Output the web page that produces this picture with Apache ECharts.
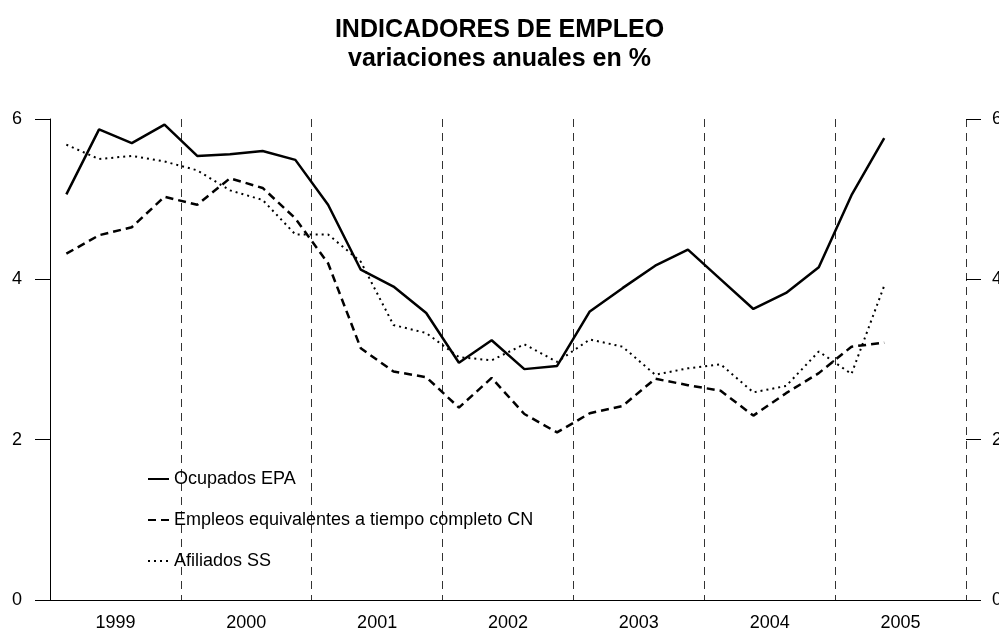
<!DOCTYPE html>
<html>
<head>
<meta charset="utf-8">
<title>Indicadores de empleo</title>
<script src="https://cdn.jsdelivr.net/npm/echarts@6/dist/echarts.min.js"></script>
<style>
  html, body { margin: 0; padding: 0; background: #fff; }
  #chart { width: 999px; height: 632px; }
</style>
</head>
<body>
<div id="chart"></div>
<script>
// datos trimestrales, variaciones anuales en %
var years = ["1999", "2000", "2001", "2002", "2003", "2004", "2005"];
var quarters = [];
years.forEach(function (y) {
  for (var q = 1; q <= 4; q++) quarters.push(y + "T" + q);
});
var ocupadosEPA = [5.06, 5.87, 5.70, 5.93, 5.54, 5.56, 5.60, 5.49, 4.93, 4.12, 3.91, 3.58, 2.96,
  3.24, 2.88, 2.92, 3.60, 3.89, 4.17, 4.37, 4.00, 3.63, 3.83, 4.15, 5.05, 5.76];
var empleosCN = [4.32, 4.55, 4.65, 5.03, 4.93, 5.26, 5.14, 4.76, 4.20, 3.14, 2.85, 2.78, 2.40,
  2.77, 2.32, 2.09, 2.33, 2.42, 2.76, 2.68, 2.61, 2.30, 2.58, 2.83, 3.16, 3.21];
var afiliadosSS = [5.68, 5.50, 5.54, 5.47, 5.36, 5.11, 4.99, 4.56, 4.56, 4.22, 3.43, 3.33, 3.03,
  2.99, 3.19, 2.97, 3.25, 3.16, 2.81, 2.89, 2.94, 2.59, 2.67, 3.10, 2.82, 3.92];
var yTicks = [0, 2, 4, 6];

(function () {
  var myChart = echarts.init(document.getElementById("chart"));
  var font = "Liberation Sans, Arial, sans-serif";
  var yAxisBase = {
    type: "value",
    min: yTicks[0],
    max: yTicks[yTicks.length - 1],
    interval: yTicks[1] - yTicks[0],
    splitLine: { show: false },
    axisTick: { show: true, length: 15, lineStyle: { color: "#000", width: 1 } },
    axisLabel: { color: "#000", fontSize: 18, fontFamily: font }
  };
  var option = {
    backgroundColor: "#fff",
    animation: false,
    title: {
      text: "INDICADORES DE EMPLEO\nvariaciones anuales en %",
      left: "center",
      top: 11,
      textStyle: { fontSize: 25, fontWeight: "bold", color: "#000", fontFamily: font, lineHeight: 29 }
    },
    legend: {
      orient: "vertical",
      left: 142,
      top: 465,
      itemWidth: 21,
      itemHeight: 20,
      itemGap: 23,
      itemStyle: { opacity: 0 },
      textStyle: { fontSize: 18, color: "#000", fontFamily: font },
      data: ["Ocupados EPA", "Empleos equivalentes a tiempo completo CN", "Afiliados SS"]
    },
    grid: { left: 50, right: 33, top: 119, bottom: 32, outerBoundsMode: "none", containLabel: false },
    xAxis: [
      {
        type: "category",
        data: quarters,
        boundaryGap: true,
        show: false
      },
      {
        type: "category",
        data: years,
        position: "bottom",
        offset: 0,
        boundaryGap: true,
        axisLine: { onZero: false, lineStyle: { color: "#000", width: 1 } },
        axisTick: { show: false },
        axisLabel: { color: "#000", fontSize: 18, fontFamily: font, margin: 14 },
        splitLine: {
          show: true,
          lineStyle: { color: "#333", width: 1, type: [8, 6] }
        }
      }
    ],
    yAxis: [
      Object.assign({}, yAxisBase, {
        position: "left",
        axisLine: { show: true, lineStyle: { color: "#000", width: 1 } },
        axisLabel: Object.assign({}, yAxisBase.axisLabel, { margin: 28 })
      }),
      Object.assign({}, yAxisBase, {
        position: "right",
        axisLine: { show: false },
        axisLabel: Object.assign({}, yAxisBase.axisLabel, { margin: 26 })
      })
    ],
    series: [
      {
        name: "Ocupados EPA",
        type: "line",
        data: ocupadosEPA,
        symbol: "none",
        lineStyle: { color: "#000", width: 2.5, type: "solid" },
        itemStyle: { color: "#000" }
      },
      {
        name: "Empleos equivalentes a tiempo completo CN",
        type: "line",
        data: empleosCN,
        symbol: "none",
        lineStyle: { color: "#000", width: 2.5, type: [8, 5] },
        itemStyle: { color: "#000" }
      },
      {
        name: "Afiliados SS",
        type: "line",
        data: afiliadosSS,
        symbol: "none",
        lineStyle: { color: "#000", width: 2, type: [2, 4] },
        itemStyle: { color: "#000" }
      }
    ]
  };
  myChart.setOption(option);
  window.addEventListener("resize", function () {
    myChart.resize();
  });
})();
</script>
</body>
</html>
